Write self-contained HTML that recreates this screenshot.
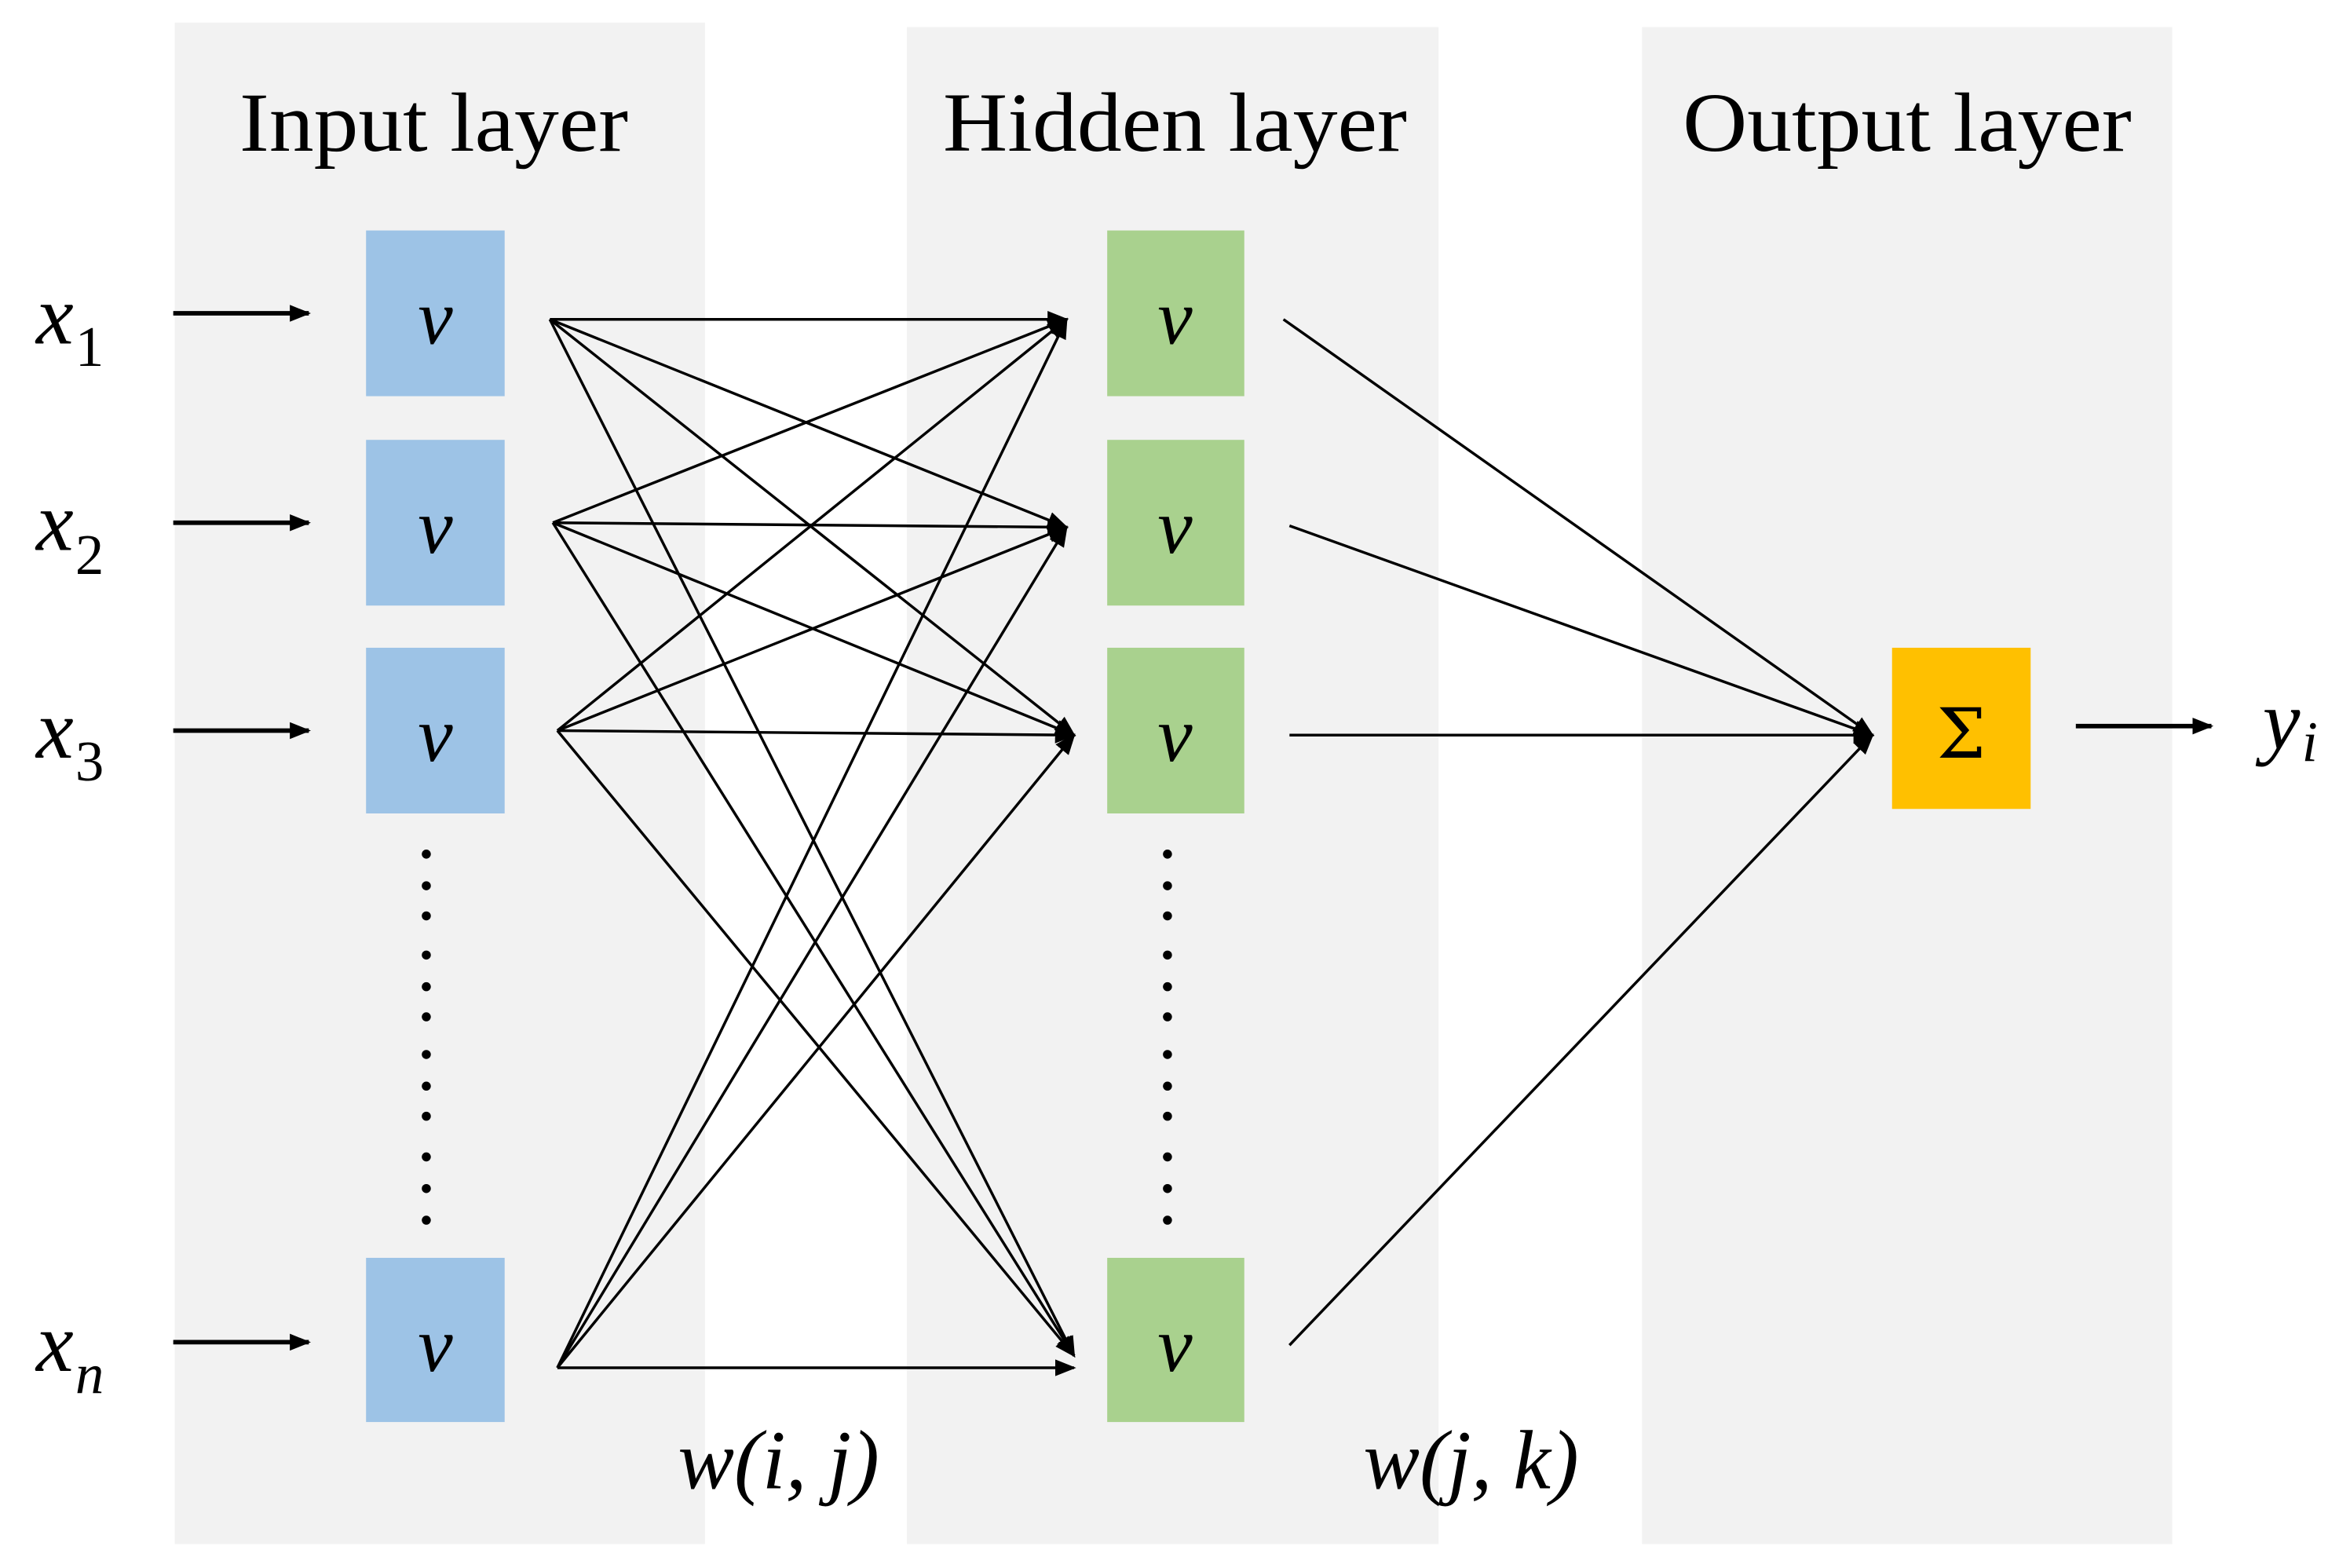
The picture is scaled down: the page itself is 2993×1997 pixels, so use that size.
<!DOCTYPE html>
<html><head><meta charset="utf-8"><style>
html,body{margin:0;padding:0;background:#fff;}
svg{display:block;}
</style></head><body>
<svg width="2993" height="1997" viewBox="0 0 1560 1040.9" preserveAspectRatio="none" xmlns="http://www.w3.org/2000/svg">
<defs>
<marker id="a" viewBox="0 0 10 10" refX="9" refY="5" markerWidth="14" markerHeight="14" orient="auto" markerUnits="userSpaceOnUse">
<path d="M0,1 L10,5 L0,9 z" fill="#000"/></marker>
<marker id="b" viewBox="0 0 10 10" refX="9" refY="5" markerWidth="14" markerHeight="14" orient="auto" markerUnits="userSpaceOnUse">
<path d="M0,1 L10,5 L0,9 z" fill="#000"/></marker>
</defs>
<rect x="0" y="0" width="1560" height="1041" fill="#fff"/>
<rect x="116" y="15" width="352" height="1010" fill="#f2f2f2"/>
<rect x="602" y="18" width="353" height="1007" fill="#f2f2f2"/>
<rect x="1090" y="18" width="352" height="1007" fill="#f2f2f2"/>
<g font-family="Liberation Serif, serif" font-size="56" text-anchor="middle" fill="#000">
<text x="288" y="100" textLength="258" lengthAdjust="spacingAndGlyphs">Input layer</text>
<text x="780" y="100" textLength="308" lengthAdjust="spacingAndGlyphs">Hidden layer</text>
<text x="1266" y="100" textLength="298" lengthAdjust="spacingAndGlyphs">Output layer</text>
</g>
<g fill="#9dc3e6">
<rect x="243" y="153" width="92" height="110"/><rect x="243" y="292" width="92" height="110"/>
<rect x="243" y="430" width="92" height="110"/><rect x="243" y="835" width="92" height="109"/>
</g>
<g fill="#a9d18e">
<rect x="735" y="153" width="91" height="110"/><rect x="735" y="292" width="91" height="110"/>
<rect x="735" y="430" width="91" height="110"/><rect x="735" y="835" width="91" height="109"/>
</g>
<rect x="1256" y="430" width="92" height="107" fill="#ffc000"/>
<g font-family="Liberation Serif, serif" font-style="italic" font-size="52" text-anchor="middle" fill="#000">
<text x="289" y="228">v</text><text x="289" y="367">v</text><text x="289" y="505">v</text><text x="289" y="910">v</text>
<text x="780" y="228">v</text><text x="780" y="367">v</text><text x="780" y="505">v</text><text x="780" y="910">v</text>
</g>
<text x="1302" y="503" font-family="DejaVu Serif, serif" font-size="46" text-anchor="middle">Σ</text>
<g font-family="Liberation Serif, serif" font-style="italic" font-size="56" fill="#000">
<text x="24" y="228">x</text><text x="24" y="365">x</text><text x="24" y="503">x</text><text x="24" y="910">x</text>
<text x="1502" y="497">y</text>
<text x="450" y="988">w(i, j)</text>
<text x="905" y="988">w(j, k)</text>
</g>
<g font-family="Liberation Serif, serif" font-size="38" fill="#000">
<text x="50" y="243">1</text><text x="50" y="381">2</text><text x="50" y="518">3</text>
<text x="50" y="925" font-style="italic">n</text>
<text x="1528" y="505" font-style="italic">i</text>
</g>
<g stroke="#000" stroke-width="3" marker-end="url(#a)">
<line x1="115" y1="208" x2="205" y2="208"/><line x1="115" y1="347" x2="205" y2="347"/>
<line x1="115" y1="485" x2="205" y2="485"/><line x1="115" y1="891" x2="205" y2="891"/>
<line x1="1378" y1="482" x2="1468" y2="482"/>
</g>
<g stroke="#000" stroke-width="1.8" marker-end="url(#b)">
<line x1="365" y1="212" x2="708" y2="212"/><line x1="365" y1="212" x2="708" y2="350"/><line x1="365" y1="212" x2="713" y2="488"/><line x1="365" y1="212" x2="713" y2="900"/>
<line x1="367" y1="347" x2="708" y2="212"/><line x1="367" y1="347" x2="708" y2="350"/><line x1="367" y1="347" x2="713" y2="488"/><line x1="367" y1="347" x2="713" y2="900"/>
<line x1="370" y1="485" x2="708" y2="212"/><line x1="370" y1="485" x2="708" y2="350"/><line x1="370" y1="485" x2="713" y2="488"/><line x1="370" y1="485" x2="713" y2="900"/>
<line x1="370" y1="908" x2="708" y2="212"/><line x1="370" y1="908" x2="708" y2="350"/><line x1="370" y1="908" x2="713" y2="488"/><line x1="370" y1="908" x2="713" y2="908"/>
<line x1="852" y1="212" x2="1243" y2="488"/><line x1="856" y1="349" x2="1243" y2="488"/>
<line x1="856" y1="488" x2="1243" y2="488"/><line x1="856" y1="893" x2="1243" y2="488"/>
</g>
<g fill="#000">
<circle cx="283" cy="567" r="3"/><circle cx="283" cy="588" r="3"/><circle cx="283" cy="608" r="3"/>
<circle cx="283" cy="634" r="3"/><circle cx="283" cy="655" r="3"/><circle cx="283" cy="675" r="3"/>
<circle cx="283" cy="700" r="3"/><circle cx="283" cy="721" r="3"/><circle cx="283" cy="741" r="3"/>
<circle cx="283" cy="768" r="3"/><circle cx="283" cy="789" r="3"/><circle cx="283" cy="810" r="3"/>
<circle cx="775" cy="567" r="3"/><circle cx="775" cy="588" r="3"/><circle cx="775" cy="608" r="3"/>
<circle cx="775" cy="634" r="3"/><circle cx="775" cy="655" r="3"/><circle cx="775" cy="675" r="3"/>
<circle cx="775" cy="700" r="3"/><circle cx="775" cy="721" r="3"/><circle cx="775" cy="741" r="3"/>
<circle cx="775" cy="768" r="3"/><circle cx="775" cy="789" r="3"/><circle cx="775" cy="810" r="3"/>
</g>
</svg>
</body></html>
